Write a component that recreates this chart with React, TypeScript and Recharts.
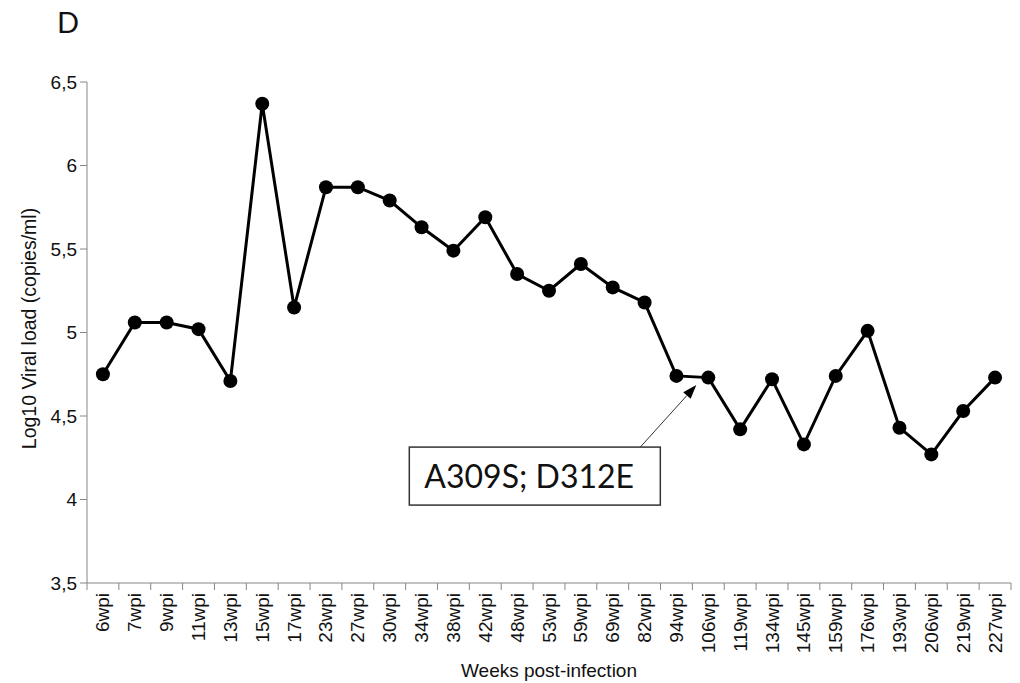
import React from "react";
import { LineChart, Line, XAxis, YAxis, ReferenceDot } from "recharts";

const weeks = [
  "6wpi", "7wpi", "9wpi", "11wpi", "13wpi", "15wpi", "17wpi", "23wpi",
  "27wpi", "30wpi", "34wpi", "38wpi", "42wpi", "48wpi", "53wpi", "59wpi",
  "69wpi", "82wpi", "94wpi", "106wpi", "119wpi", "134wpi", "145wpi",
  "159wpi", "176wpi", "193wpi", "206wpi", "219wpi", "227wpi",
];
const viralLoad = [
  4.75, 5.06, 5.06, 5.02, 4.71, 6.37, 5.15, 5.87,
  5.87, 5.79, 5.63, 5.49, 5.69, 5.35, 5.25, 5.41,
  5.27, 5.18, 4.74, 4.73, 4.42, 4.72, 4.33,
  4.74, 5.01, 4.43, 4.27, 4.53, 4.73,
];
const yTicks = [3.5, 4, 4.5, 5, 5.5, 6, 6.5];
const annotationWeek = "106wpi";
const annotationText = "A309S; D312E";
const panelLetter = "D";

const data = weeks.map((week, i) => ({ week, load: viralLoad[i] }));

const W = 1020;
const H = 683;
const MARGIN = { top: 82, right: 9, bottom: 0, left: 0 };
const Y_AXIS_W = 87;
const X_AXIS_H = 100;
const BAND = (W - MARGIN.right - MARGIN.left - Y_AXIS_W) / weeks.length;
const AXIS = "#868686";
const FONT = "'Liberation Sans', Arial, sans-serif";
const NOTE_FONT = "Lato, 'Open Sans', sans-serif";

const XTick = (props: any) => {
  const { x, y, payload, index } = props;
  const half = BAND / 2;
  const axisY = y - 10;
  return (
    <g>
      <line x1={x - half} x2={x - half} y1={axisY} y2={axisY + 7} stroke={AXIS} />
      {index === weeks.length - 1 && (
        <line x1={x + half} x2={x + half} y1={axisY} y2={axisY + 7} stroke={AXIS} />
      )}
      <text
        x={x}
        y={y}
        transform={`rotate(-90, ${x}, ${y})`}
        textAnchor="end"
        dominantBaseline="central"
        fontSize={19}
        fontFamily={FONT}
        fill="#111"
      >
        {payload.value}
      </text>
    </g>
  );
};

// arrow + boxed label, placed relative to the annotated point
const Annotation = (props: any) => {
  const { cx, cy } = props;
  if (cx == null || cy == null) return null;
  const tx = cx - 12;
  const ty = cy + 7.5;
  const sx = cx - 68;
  const sy = cy + 69.5;
  const len = Math.hypot(tx - sx, ty - sy);
  const ux = (tx - sx) / len;
  const uy = (ty - sy) / len;
  const hl = 14;
  const hw = 5;
  const bx = tx - ux * hl;
  const by = ty - uy * hl;
  const head = `${tx},${ty} ${bx - uy * hw},${by + ux * hw} ${bx + uy * hw},${by - ux * hw}`;
  return (
    <g>
      <line x1={sx} y1={sy} x2={bx} y2={by} stroke="#333" strokeWidth={1} />
      <polygon points={head} fill="#000" />
      <rect x={cx - 299} y={cy + 69.5} width={251} height={58} fill="#fff" stroke="#333" strokeWidth={1.5} />
      <text x={cx - 284} y={cy + 110} fontSize={32} fontFamily={NOTE_FONT} fill="#111">
        {annotationText}
      </text>
    </g>
  );
};

const App = () => (
  <div style={{ position: "absolute", left: 0, top: 0, width: W, height: H, background: "#fff" }}>
    <div
      style={{
        position: "absolute",
        left: 57,
        top: 6,
        fontFamily: NOTE_FONT,
        fontSize: 29,
        lineHeight: "32px",
        color: "#111",
      }}
    >
      {panelLetter}
    </div>
    <LineChart width={W} height={H} data={data} margin={MARGIN}>
      <XAxis
        dataKey="week"
        interval={0}
        height={X_AXIS_H}
        padding={{ left: BAND / 2, right: BAND / 2 }}
        stroke={AXIS}
        tickLine={false}
        tickSize={7}
        tickMargin={3}
        tick={<XTick />}
        label={{
          content: (p: any) => {
            const vb = p.viewBox || { x: Y_AXIS_W, width: W - Y_AXIS_W - MARGIN.right };
            return (
              <text
                x={vb.x + vb.width / 2}
                y={670}
                textAnchor="middle"
                dominantBaseline="central"
                fontSize={19}
                fontFamily={FONT}
                fill="#111"
              >
                Weeks post-infection
              </text>
            );
          },
        }}
      />
      <YAxis
        width={Y_AXIS_W}
        domain={[3.5, 6.5]}
        ticks={yTicks}
        interval={0}
        stroke={AXIS}
        tickSize={7}
        tickMargin={3}
        tick={{ fontSize: 19, fontFamily: FONT, fill: "#111" }}
        tickFormatter={(v: number) => String(v).replace(".", ",")}
        label={{
          content: (p: any) => {
            const vb = p.viewBox || { y: MARGIN.top, height: 501 };
            const cy = vb.y + vb.height / 2 - 4;
            return (
              <text
                x={29}
                y={cy}
                transform={`rotate(-90, 29, ${cy})`}
                textAnchor="middle"
                dominantBaseline="central"
                fontSize={19.5}
                fontFamily={FONT}
                fill="#111"
              >
                Log10 Viral load (copies/ml)
              </text>
            );
          },
        }}
      />
      <Line
        type="linear"
        dataKey="load"
        stroke="#000"
        strokeWidth={3}
        dot={{ r: 7, fill: "#000", stroke: "#000", strokeWidth: 0 }}
        activeDot={false}
        isAnimationActive={false}
      />
      <ReferenceDot
        x={annotationWeek}
        y={viralLoad[weeks.indexOf(annotationWeek)]}
        r={1}
        shape={(p: any) => <Annotation cx={p.cx} cy={p.cy} />}
      />
    </LineChart>
  </div>
);

export default App;
